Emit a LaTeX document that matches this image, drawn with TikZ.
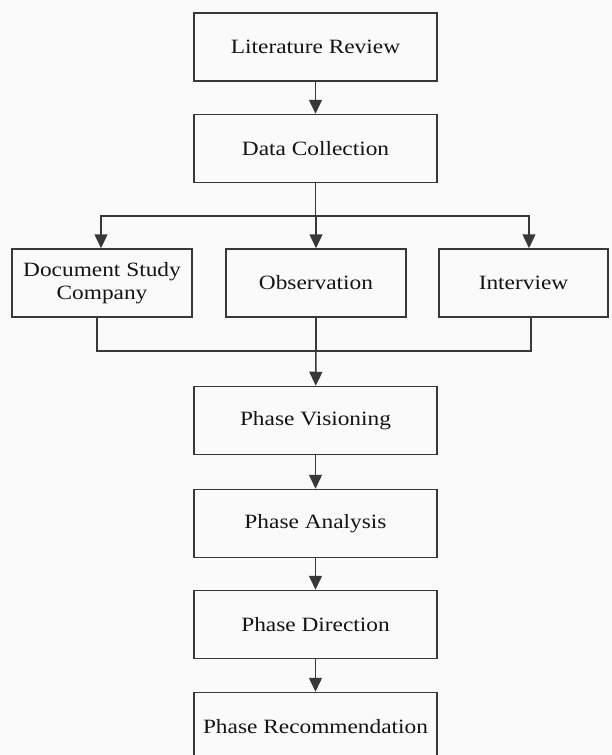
\documentclass[tikz,border=0pt]{standalone}
\usepackage{fontspec}
\setmainfont{Liberation Serif}[FakeStretch=1.15]
\usepackage{tikz}
\usetikzlibrary{
    arrows.meta,
    calc,
    positioning,
}

\begin{document}
\begin{tikzpicture}[x=1pt,y=-1pt,>={Triangle[length=14pt,width=13pt]},auto]

    \tikzstyle{commonNode}=[font=\fontsize{20.3}{23}\selectfont, align=center, line width=1.5pt, draw=black!78, text=black!92]
    \tikzstyle{stage}=[commonNode, rectangle, minimum width=243pt, minimum height=68pt, inner sep=0pt]
    \tikzstyle{source}=[stage, minimum width=180pt]
    \tikzstyle{wire}=[line width=1.5pt, draw=black!78]
    \tikzstyle{pre}=[wire, <-]
    \tikzstyle{post}=[wire, ->]

    % Page
    \useasboundingbox[fill=black!2] (0,0) rectangle (612,755);

    \begin{scope}
        % Columns and rows
        \def \lcol {102}
        \def \mcol {315.5}
        \def \rcol {523.5}

        % Main chain, top part
        \node at (\mcol, 47)    [stage]  (LR)  {Literature Review};
        \node at (\mcol, 148.5) [stage]  (DC)  {Data Collection}
            edge  [pre]   (LR);

        % Sources
        \node at (\lcol, 283)   [source] (DS)  {Document Study\\Company};
        \node at (316, 283)     [source] (OB)  {Observation};
        \node at (\rcol, 283)   [source, minimum width=169pt] (IV) {Interview};

        % Split and merge points
        \coordinate (split) at (\mcol, 216);
        \coordinate (merge) at (316, 351);

        \draw [wire] (DC.south) -- (split);
        \draw [post] (split) -| ([xshift=-1pt]DS.north);
        \draw [post] (split) -- (split -| OB.north) -- (OB.north);
        \draw [post] (split) -| ([xshift=5.5pt]IV.north);

        \draw [wire] ([xshift=-5pt]DS.south) |- (merge);
        \draw [wire] ([xshift=7.5pt]IV.south) |- (merge);
        \draw [wire] (OB.south) -- (merge);

        % Main chain, phases
        \node at (\mcol, 420.5) [stage]  (PV)  {Phase Visioning}
            edge  [pre]   (merge);
        \node at (\mcol, 523.5) [stage]  (PA)  {Phase Analysis}
            edge  [pre]   (PV);
        \node at (\mcol, 624.5) [stage]  (PD)  {Phase Direction}
            edge  [pre]   (PA);
        \node at (\mcol, 726.5) [stage]  (PR)  {Phase Recommendation}
            edge  [pre]   (PD);
    \end{scope}

\end{tikzpicture}
\end{document}
